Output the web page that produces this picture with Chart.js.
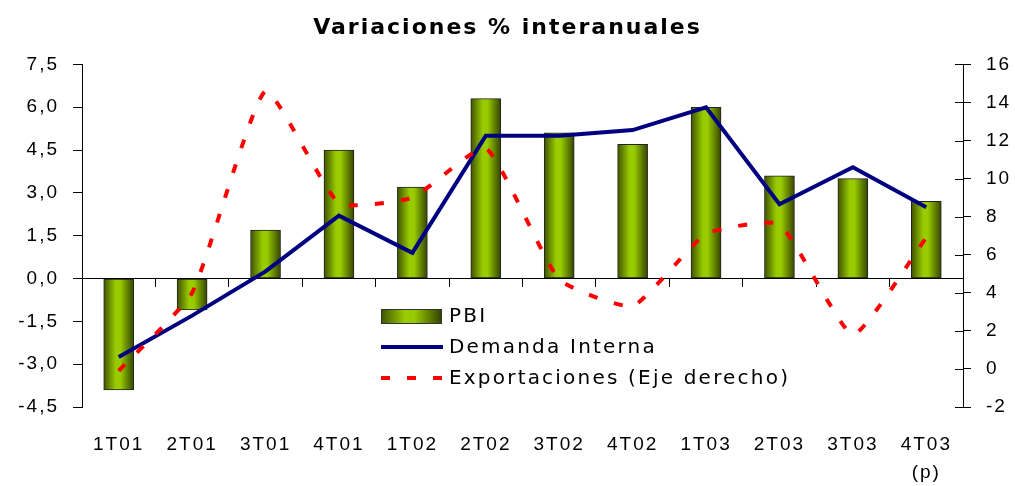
<!DOCTYPE html>
<html>
<head>
<meta charset="utf-8">
<script src="https://cdn.jsdelivr.net/npm/chart.js"></script>
<style>
  body { margin: 0; background: #fff; }
  #wrap { width: 1015px; height: 486px; }
</style>
</head>
<body>
<div id="wrap"><canvas id="chart"></canvas></div>
<script>
  const quarters = ['1T01', '2T01', '3T01', '4T01', '1T02', '2T02', '3T02', '4T02', '1T03', '2T03', '3T03', ['4T03', '(p)']];
  const pbi = [-3.9, -1.1, 1.7, 4.5, 3.2, 6.3, 5.1, 4.7, 6.0, 3.6, 3.5, 2.7];
  const demandaInterna = [-2.75, -1.3, 0.25, 2.2, 0.9, 5.0, 5.0, 5.2, 6.0, 2.6, 3.9, 2.5];
  const exportaciones = [-0.1, 4.0, 14.6, 8.7, 9.0, 11.6, 4.7, 3.3, 7.1, 7.6, 1.8, 6.9];

  const FONT = 'Liberation Sans';
  const WIDE = 'DejaVu Sans';

  const barGradient = (ctx, x0, x1) => {
    const g = ctx.createLinearGradient(x0, 0, x1, 0);
    g.addColorStop(0, '#3f5200');
    g.addColorStop(0.4, '#99cc00');
    g.addColorStop(0.55, '#99cc00');
    g.addColorStop(1, '#344400');
    return g;
  };

  const spacing = {
    id: 'spacing',
    beforeDraw: (chart) => { chart.ctx.letterSpacing = '2px'; }
  };

  // the right axis ticks cross the axis line
  const innerTicks = {
    id: 'innerTicks',
    afterDraw: (chart) => {
      const s = chart.scales.y1, ctx = chart.ctx;
      ctx.save();
      ctx.strokeStyle = '#000';
      ctx.lineWidth = 1;
      s.ticks.forEach((t) => {
        const y = Math.round(s.getPixelForValue(t.value)) + 0.5;
        ctx.beginPath();
        ctx.moveTo(s.left - 8, y);
        ctx.lineTo(s.left, y);
        ctx.stroke();
      });
      ctx.restore();
    }
  };

  // legend drawn inside the plot area, like the original
  const innerLegend = {
    id: 'innerLegend',
    afterDraw: (chart) => {
      const ctx = chart.ctx;
      const x = 381, rows = [316, 347, 378];
      ctx.save();
      ctx.letterSpacing = '2.2px';
      ctx.font = '20px ' + WIDE;
      ctx.textBaseline = 'middle';
      chart.data.datasets.forEach((ds, i) => {
        const y = rows[i];
        if (ds.type === 'bar') {
          ctx.fillStyle = barGradient(ctx, x, x + 60);
          ctx.fillRect(x, y - 7, 60, 14);
          ctx.strokeStyle = '#333';
          ctx.lineWidth = 1;
          ctx.strokeRect(x + 0.5, y - 7 + 0.5, 60, 14);
        } else {
          ctx.strokeStyle = ds.borderColor;
          ctx.lineWidth = ds.borderWidth;
          ctx.setLineDash(ds.borderDash || []);
          ctx.beginPath();
          ctx.moveTo(x, y);
          ctx.lineTo(x + 62, y);
          ctx.stroke();
          ctx.setLineDash([]);
        }
        ctx.fillStyle = '#000';
        ctx.fillText(ds.label, x + 68, y + 1);
      });
      ctx.restore();
    }
  };

  const config = {
    data: {
      labels: quarters,
      datasets: [{
        type: 'bar',
        label: 'PBI',
        data: pbi,
        yAxisID: 'y',
        order: 3,
        barThickness: 30,
        borderColor: '#222',
        borderWidth: 1,
        borderSkipped: false,
        backgroundColor: (c) => {
          const x = c.chart.scales.x ? c.chart.scales.x.getPixelForValue(c.dataIndex) : NaN;
          if (!isFinite(x)) return '#99cc00';
          return barGradient(c.chart.ctx, x - 15, x + 15);
        }
      }, {
        type: 'line',
        label: 'Demanda Interna',
        data: demandaInterna,
        yAxisID: 'y',
        order: 2,
        borderColor: '#000080',
        borderWidth: 4,
        pointRadius: 0,
        tension: 0
      }, {
        type: 'line',
        label: 'Exportaciones (Eje derecho)',
        data: exportaciones,
        yAxisID: 'y1',
        order: 1,
        borderColor: '#ff0000',
        borderWidth: 4,
        borderDash: [9, 17],
        pointRadius: 0,
        tension: 0.15
      }]
    },
    options: {
      responsive: true,
      maintainAspectRatio: false,
      animation: false,
      layout: { padding: 0 },
      plugins: {
        legend: { display: false },
        tooltip: { enabled: false },
        title: {
          display: true,
          text: 'Variaciones % interanuales',
          color: '#000',
          font: { family: WIDE, size: 22, weight: 'bold' },
          padding: { top: 15, bottom: 23 }
        }
      },
      scales: {
        x: {
          type: 'category',
          offset: true,
          grid: { display: false, drawTicks: false },
          border: { display: false },
          ticks: { color: '#000', font: { family: FONT, size: 19, lineHeight: 1.45 }, padding: 24, maxRotation: 0, autoSkip: false },
          afterFit: (s) => { s.height = 79; }
        },
        x2: {
          type: 'category',
          labels: quarters,
          position: { y: 0 },
          offset: true,
          grid: { offset: true, drawOnChartArea: false, tickLength: 8, color: '#000' },
          border: { display: true, color: '#000', width: 1 },
          ticks: { display: false }
        },
        y: {
          position: 'left',
          min: -4.5,
          max: 7.5,
          ticks: {
            stepSize: 1.5,
            color: '#000',
            font: { family: FONT, size: 19 },
            padding: 14,
            callback: (v) => v.toFixed(1).replace('.', ',')
          },
          grid: { drawOnChartArea: false, tickLength: 9, color: '#000' },
          border: { display: true, color: '#000' },
          afterFit: (s) => { s.width = 82; }
        },
        y1: {
          position: 'right',
          min: -2,
          max: 16,
          ticks: {
            stepSize: 2,
            color: '#000',
            font: { family: FONT, size: 19 },
            padding: 15
          },
          grid: { drawOnChartArea: false, tickLength: 8, color: '#000' },
          border: { display: true, color: '#000' },
          afterFit: (s) => { s.width = 52; }
        }
      }
    },
    plugins: [spacing, innerTicks, innerLegend]
  };

  new Chart(document.getElementById('chart'), config);
</script>
</body>
</html>
